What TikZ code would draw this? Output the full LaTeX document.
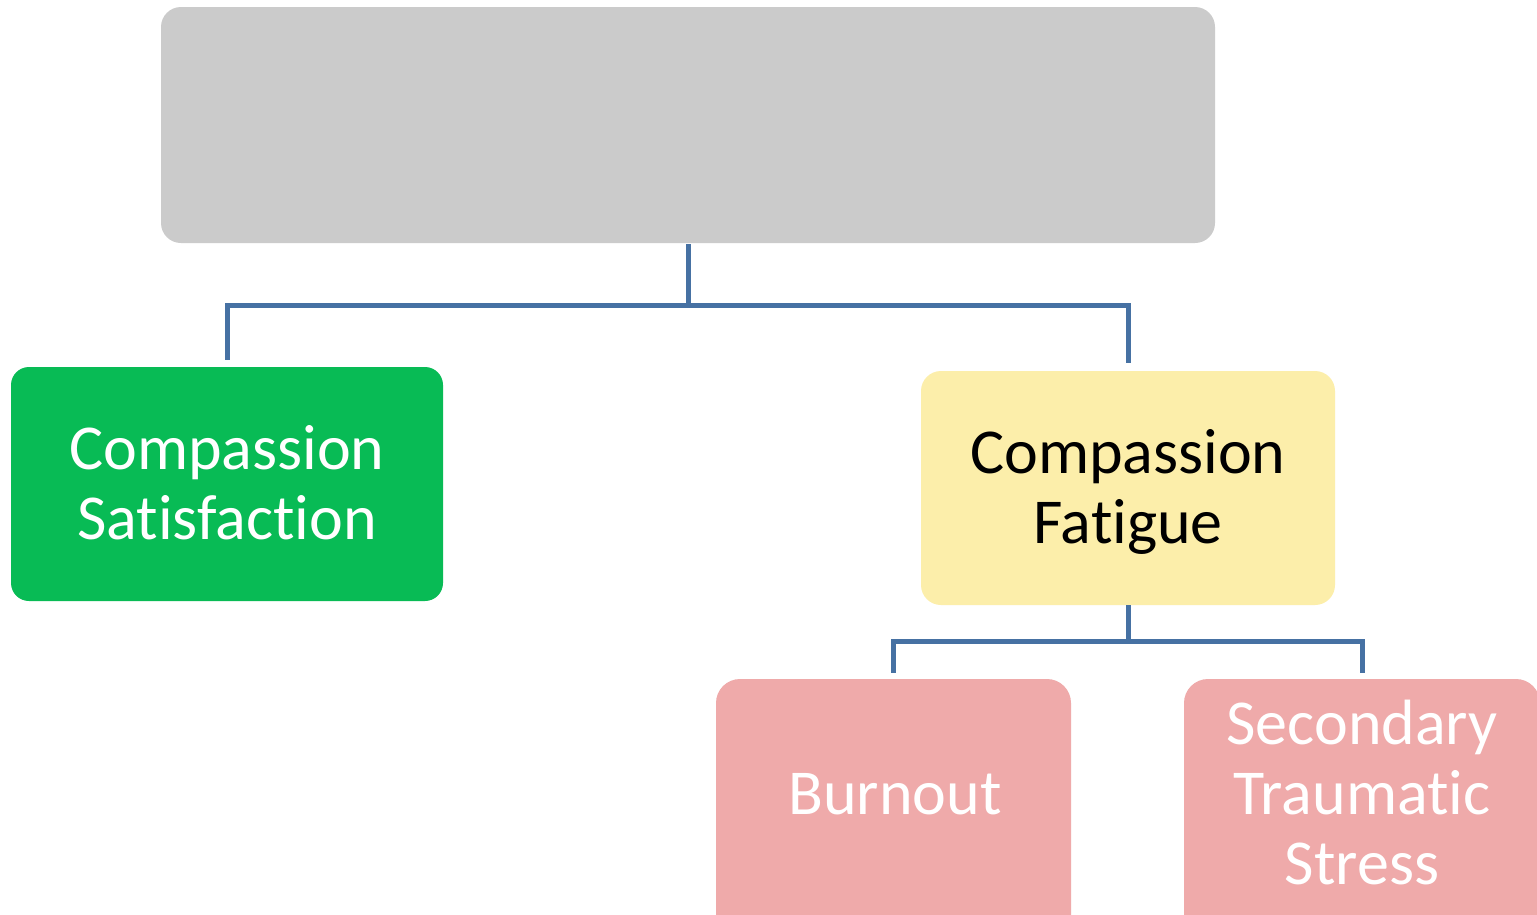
\documentclass[tikz,border=0pt]{standalone}
\usepackage{fontspec}
\setmainfont{Carlito}[Ligatures=NoCommon]
\definecolor{boxgray}{HTML}{CBCBCB}
\definecolor{boxgreen}{HTML}{08BB55}
\definecolor{boxyellow}{HTML}{FCEEAA}
\definecolor{boxpink}{HTML}{EFAAAA}
\definecolor{linkblue}{HTML}{4671A3}
\tikzset{
  box/.style={inner sep=0pt, align=center, text depth=0pt},
  bigtext/.style={font=\fontsize{64}{70}\selectfont, align=center, text depth=0pt, inner sep=0pt},
  link/.style={draw=linkblue, line width=5pt}
}
\begin{document}
\begin{tikzpicture}[x=1pt,y=-1pt]
\useasboundingbox (0,0) rectangle (1537,914);
\clip (0,0) rectangle (1537,914);
\fill[white] (0,0) rectangle (1537,914);
% boxes
\node[box, fill=boxgray, rounded corners=20pt, minimum width=1054pt, minimum height=236pt] (top) at (688,125) {};
\node[box, fill=boxgreen, rounded corners=18pt, minimum width=432pt, minimum height=234pt] (cs) at (227,484) {};
\node[box, fill=boxyellow, rounded corners=20pt, minimum width=414pt, minimum height=234pt] (cf) at (1128,488) {};
\node[box, fill=boxpink, rounded corners=24pt, minimum width=355pt, minimum height=260pt] (bo) at (893.5,809) {};
\node[box, fill=boxpink, rounded corners=24pt, minimum width=356pt, minimum height=260pt] (sts) at (1362,809) {};
\node[bigtext, text=white] (cst) at (227,482) {Compassion\\Satisfaction};
\node[bigtext, text=black] (cft) at (1128,486) {Compassion\\Fatigue};
\node[bigtext, text=white] (bot) at (895,794) {Burnout};
\node[bigtext, text=white] (stst) at (1362,792) {Secondary\\Traumatic\\Stress};
% connectors
\coordinate (j1) at (688,305);
\coordinate (j2) at (1128,641);
\draw[link, shorten <=1pt, shorten >=7pt] (top.south) -- (j1) -| (cs.north);
\draw[link, shorten >=8pt] (j1) -| (cf.north);
\draw[link, shorten >=6pt] (cf.south) -- (j2) -| (bo.north);
\draw[link, shorten >=6pt] (j2) -| (sts.north);
\end{tikzpicture}
\end{document}
